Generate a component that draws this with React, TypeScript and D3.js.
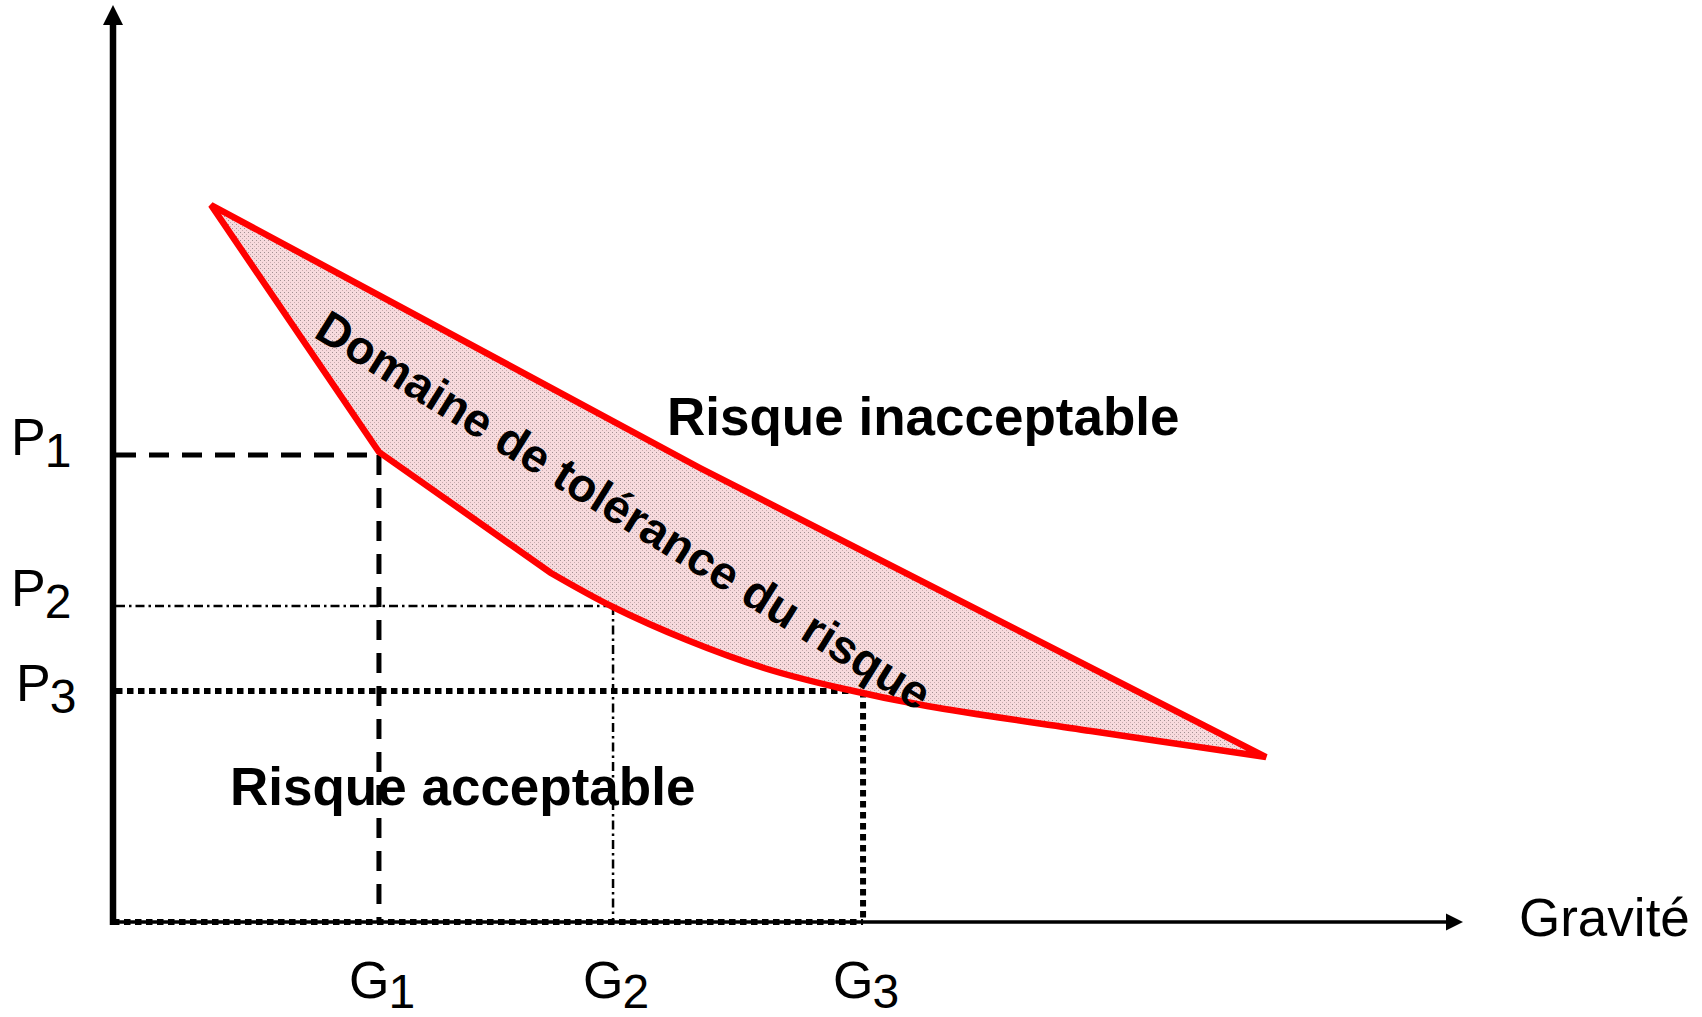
import React from "react";
import * as d3 from "d3";

// ---- data (in chart units: gravity 0..100, probability 0..100) ----
const G_VALUES = [19.7, 37.04, 55.56];
const G_SUBS = ["1", "2", "3"];
const P_VALUES = [50.93, 34.46, 25.19];
const P_SUBS = ["1", "2", "3"];
const UPPER_EDGE: [number, number][] = [
  [7.26, 78.19],
  [43.48, 49.51],
  [85.41, 17.99],
];
const LOWER_EDGE_CURVE: [number, number][] = [
  [85.41, 17.99],
  [72.44, 20.83],
  [60.3, 23.56],
  [53.85, 25.52],
  [48.22, 27.7],
  [42.52, 30.75],
  [37.04, 34.35],
  [32.44, 38.06],
];
const LOWER_EDGE_STRAIGHT: [number, number][] = [
  [32.44, 38.06],
  [19.7, 51.25],
  [7.26, 78.19],
];
const X_LABEL = "Gravité";
const ZONE_LABELS = ["Risque inacceptable", "Risque acceptable", "Domaine de tolérance du risque"];

const W = 1702;
const H = 1017;
const FONT = "'Liberation Sans', Arial, Helvetica, sans-serif";

const x = d3.scaleLinear().domain([0, 100]).range([113, 1463]);
const y = d3.scaleLinear().domain([0, 100]).range([922, 5]);

const GUIDE_STYLES = [
  { dash: "20,13", width: 5 },
  { dash: "9,4,2.5,4", width: 2.5 },
  { dash: "6.5,4.5", width: 6 },
];

export default function App() {
  const lin = d3
    .line<[number, number]>()
    .x((d) => x(d[0]))
    .y((d) => y(d[1]))
    .curve(d3.curveLinear);
  const cur = d3
    .line<[number, number]>()
    .x((d) => x(d[0]))
    .y((d) => y(d[1]))
    .curve(d3.curveCatmullRom.alpha(0.5));
  const p1 = lin(UPPER_EDGE) || "";
  const p2 = (cur(LOWER_EDGE_CURVE) || "").replace(/^M/, "L");
  const p3 = (lin(LOWER_EDGE_STRAIGHT) || "").replace(/^M/, "L");
  const polyPath = p1 + p2 + p3 + "Z";

  const x0 = x(0);
  const y0 = y(0);

  return (
    <svg
      width={W}
      height={H}
      viewBox={`0 0 ${W} ${H}`}
      style={{ position: "absolute", left: 0, top: 0, display: "block", background: "#fff" }}
    >
      <defs>
        <pattern id="dots" width="4" height="4" patternUnits="userSpaceOnUse">
          <rect width="4" height="4" fill="#f7dadd" />
          <rect x="0" y="0" width="1" height="1" fill="#a08f91" />
          <rect x="2" y="2" width="1" height="1" fill="#c8aaae" />
        </pattern>
      </defs>

      {/* axes */}
      <line x1={x0} y1={y0} x2={1446} y2={y0} stroke="#000" strokeWidth={3.5} />
      <path d={`M${x(100)},${y0} L1446,${y0 - 8.5} L1446,${y0 + 8.5} Z`} fill="#000" />
      <line x1={x0} y1={y0 + 3} x2={x0} y2={24} stroke="#000" strokeWidth={6.5} />
      <path d={`M${x0},${y(100)} L${x0 - 10},25 L${x0 + 10},25 Z`} fill="#000" />

      {/* guide lines */}
      {G_VALUES.map((g, i) => (
        <g key={i} stroke="#000" fill="none" strokeWidth={GUIDE_STYLES[i].width} strokeDasharray={GUIDE_STYLES[i].dash}>
          <line x1={x0 + 3} y1={y(P_VALUES[i])} x2={x(g)} y2={y(P_VALUES[i])} />
          <line x1={x(g)} y1={y(P_VALUES[i])} x2={x(g)} y2={y0} />
          {i === 2 && <line x1={x0} y1={y0} x2={x(g)} y2={y0} />}
        </g>
      ))}

      {/* tolerance domain */}
      <path d={polyPath} fill="url(#dots)" stroke="#ff0000" strokeWidth={6.5} strokeLinejoin="miter" />

      {/* rotated label */}
      <text
        x={624}
        y={510}
        transform="rotate(31.8 624 510)"
        textAnchor="middle"
        dominantBaseline="central"
        fontFamily={FONT}
        fontWeight="bold"
        fontSize={47}
        fill="#000"
      >
        {ZONE_LABELS[2]}
      </text>

      <text x={667} y={435} fontFamily={FONT} fontWeight="bold" fontSize={53} fill="#000">
        {ZONE_LABELS[0]}
      </text>
      <text x={230} y={805} fontFamily={FONT} fontWeight="bold" fontSize={53} fill="#000">
        {ZONE_LABELS[1]}
      </text>

      {/* P labels */}
      {P_VALUES.map((p, i) => (
        <text key={i} x={i === 2 ? 16 : 11} y={i === 2 ? y(p) + 10 : y(p)} fontFamily={FONT} fontSize={52} fill="#000">
          P
          <tspan dx={-1} dy={12} fontSize={48}>
            {P_SUBS[i]}
          </tspan>
        </text>
      ))}

      {/* G labels */}
      {G_VALUES.map((g, i) => (
        <text key={i} x={x(g) - 30} y={998} fontFamily={FONT} fontSize={52} fill="#000">
          G
          <tspan dx={-1} dy={10} fontSize={48}>
            {G_SUBS[i]}
          </tspan>
        </text>
      ))}

      <text x={1519} y={936} fontFamily={FONT} fontSize={53} fill="#000">
        {X_LABEL}
      </text>
    </svg>
  );
}
